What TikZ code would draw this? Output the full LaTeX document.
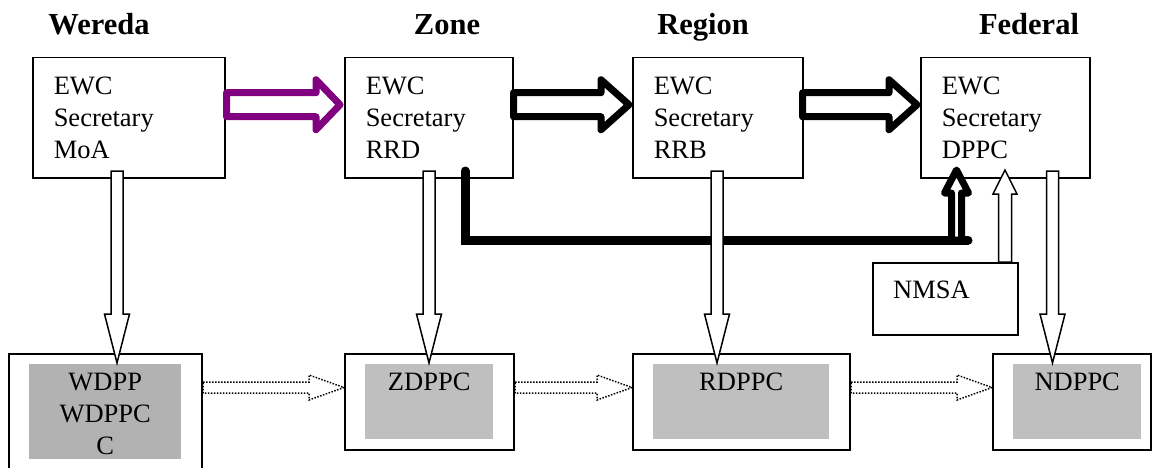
\documentclass[tikz,border=0pt]{standalone}
\usepackage{fontspec}
\setmainfont{Liberation Serif}
\usetikzlibrary{calc}
\definecolor{ewcpurple}{RGB}{128,0,128}

% block arrow: [style]{from}{to}{shaft half width}{head half width}{head length}
\newcommand{\blockarrow}[6][]{%
  \path ($(#3)!#6!(#2)$) coordinate (ba-base);
  \draw[#1] ($(#2)!#4!90:(#3)$) -- ($(ba-base)!#4!90:(#3)$)
    -- ($(ba-base)!#5!90:(#3)$) -- (#3)
    -- ($(ba-base)!#5!-90:(#3)$) -- ($(ba-base)!#4!-90:(#3)$)
    -- ($(#2)!#4!-90:(#3)$) -- cycle;
}

\begin{document}
\begin{tikzpicture}[x=1pt, y=-1pt,
  every node/.style={font=\fontsize{26.5}{32}\selectfont},
  header/.style={font=\fontsize{30.5}{36}\selectfont\bfseries, anchor=base},
  topbox/.style={draw, line width=1.5pt, inner xsep=21pt, text width=#1,
    minimum height=120pt, align=left, anchor=north west},
  lowbox/.style={draw, line width=2pt, anchor=north west},
  shade/.style={fill=black!25, inner sep=0pt, anchor=north west},
  cell/.style={inner sep=0pt, anchor=north, align=center},
  fatarrow/.style={line width=7pt, line join=round, fill=white},
  thinarrow/.style={line width=1.5pt, fill=white},
  dotarrow/.style={line width=1.5pt, dash pattern=on 1.5pt off 1.5pt},
  linkline/.style={line width=9pt, line cap=round}]
  \useasboundingbox (0,0) rectangle (1153,468);

  \foreach \lvl/\x in {Wereda/99, Zone/447, Region/703, Federal/1029}
    \node[header] (h\lvl) at (\x,35) {\lvl};

  % EWC secretaries
  \node[topbox=150pt] (wbox) at (32,57) {EWC\\Secretary\\MoA};
  \node[topbox=126pt] (zbox) at (344,57) {EWC\\Secretary\\RRD};
  \node[topbox=128pt] (rbox) at (632,57) {EWC\\Secretary\\RRB};
  \node[topbox=127pt] (fbox) at (920,57) {EWC\\Secretary\\DPPC};

  % DPPC offices
  \node[lowbox, minimum width=193pt, minimum height=140pt] (wlow) at (8,353) {};
  \node[shade, fill=black!30, minimum width=152pt, minimum height=95pt] (wshade) at (29,364) {};
  \node[cell] (wtext) at ($(wshade.north)+(0,9)$) {WDPP\\WDPPC\\C};
  \node[lowbox, minimum width=169pt, minimum height=96pt] (zlow) at (344,353) {};
  \node[shade, minimum width=128pt, minimum height=75pt] (zshade) at (365,364) {};
  \node[cell] (ztext) at ($(zshade.north)+(0,9)$) {ZDPPC};
  \node[lowbox, minimum width=217pt, minimum height=96pt] (rlow) at (632,353) {};
  \node[shade, minimum width=176pt, minimum height=75pt] (rshade) at (653,364) {};
  \node[cell] (rtext) at ($(rshade.north)+(0,9)$) {RDPPC};
  \node[lowbox, minimum width=158pt, minimum height=96pt] (flow) at (992,353) {};
  \node[shade, minimum width=128pt, minimum height=75pt] (fshade) at (1013,364) {};
  \node[cell] (ftext) at ($(fshade.north)+(0,9)$) {NDPPC};

  % zone straight to federal
  \coordinate (lstart) at (465,171);
  \coordinate (ljoin) at (968,240);
  \draw[linkline] (lstart) |- (ljoin);
  \coordinate (ffoot) at (956.5,240);
  \coordinate (fup) at (956.5,170);
  \blockarrow[fatarrow]{ffoot}{fup}{5pt}{12pt}{23pt}

  % upward chain
  \coordinate (wout) at ($(wbox.east)+(1,-13)$);
  \coordinate (zin) at ($(zbox.west)+(-4,-13)$);
  \blockarrow[fatarrow, draw=ewcpurple]{wout}{zin}{12pt}{25pt}{24pt}
  \coordinate (zout) at ($(zbox.east)+(0,-13)$);
  \coordinate (rin) at ($(rbox.west)+(-3,-13)$);
  \blockarrow[fatarrow]{zout}{rin}{12pt}{25pt}{28pt}
  \coordinate (rout) at ($(rbox.east)+(-1,-13)$);
  \coordinate (fin) at ($(fbox.west)+(-3,-13)$);
  \blockarrow[fatarrow]{rout}{fin}{12pt}{25pt}{28pt}

  % secretary down to DPPC
  \foreach \n/\x in {w/117, z/429, r/717, f/1052.5} {
    \coordinate (\n top) at (\x,171);
    \coordinate (\n tip) at (\x,363);
    \blockarrow[thinarrow]{\n top}{\n tip}{6pt}{12.5pt}{49pt}
  }

  \node[draw, line width=1.5pt, minimum width=145pt, minimum height=72pt,
    anchor=north west] (nmsa) at (872,262) {};
  \node[anchor=base west, inner sep=0pt] (nmsatext) at (893,298) {NMSA};
  \coordinate (nout) at (1005,262);
  \coordinate (nup) at (1005,170);
  \blockarrow[thinarrow]{nout}{nup}{6.5pt}{12pt}{24pt}

  % dotted links between DPPC offices
  \foreach \a/\b in {wlow/zlow, zlow/rlow, rlow/flow} {
    \coordinate (\a out) at ($(\a.north east)+(0,34.5)$);
    \coordinate (\b in) at ($(\b.north west)+(0,34.5)$);
    \blockarrow[dotarrow]{\a out}{\b in}{5.5pt}{12.5pt}{35pt}
  }
\end{tikzpicture}
\end{document}
